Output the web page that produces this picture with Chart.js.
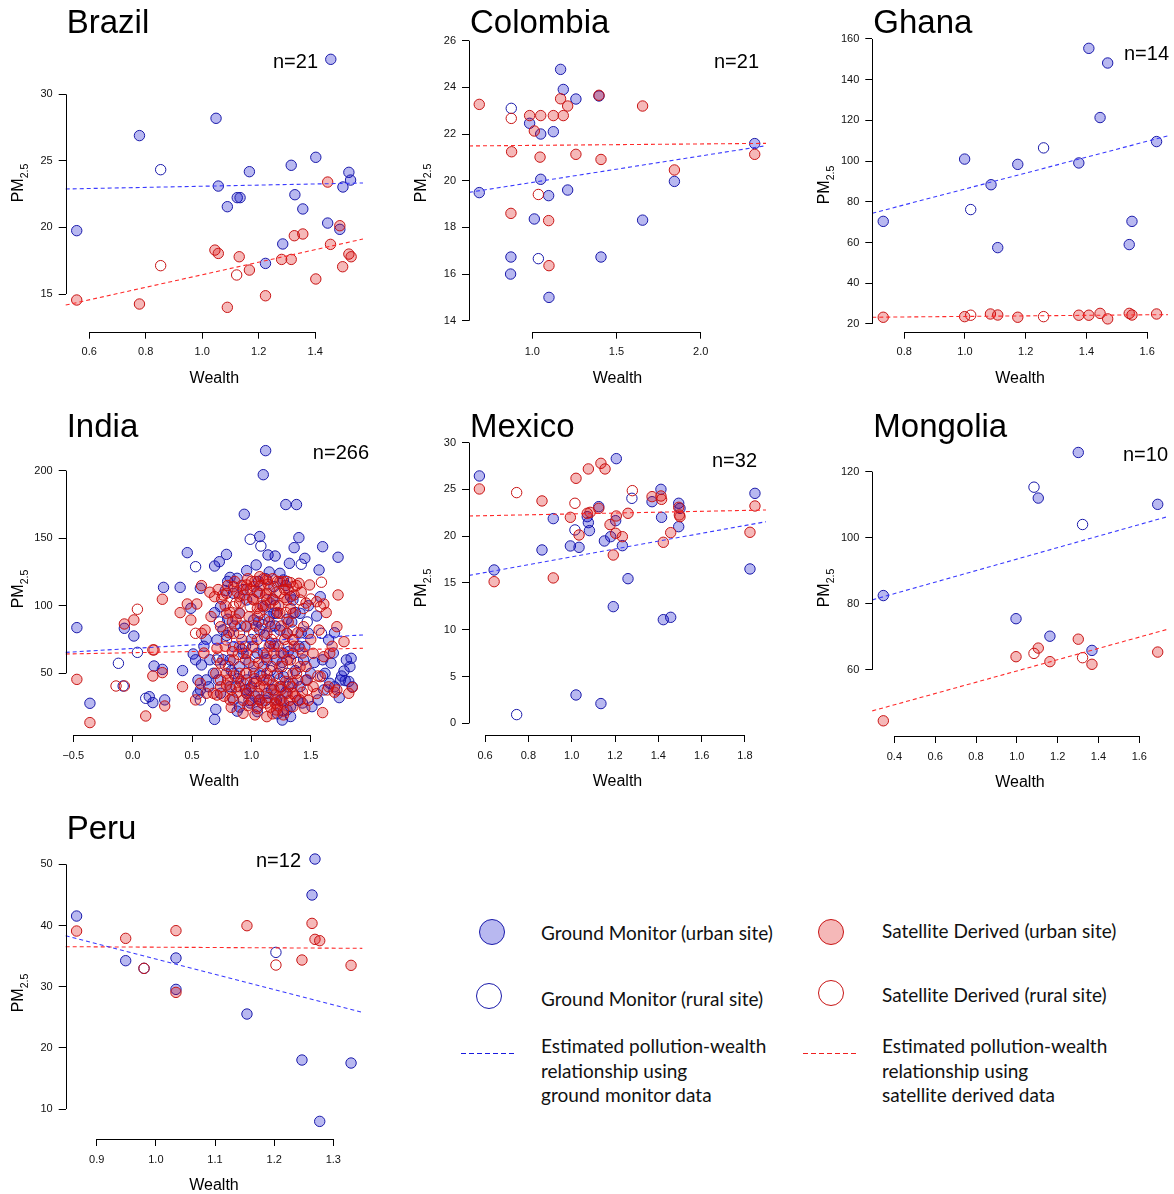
<!DOCTYPE html>
<html>
<head>
<meta charset="utf-8">
<title>PM2.5 and wealth</title>
<script src="https://cdn.jsdelivr.net/npm/chart.js@4.4.0/dist/chart.umd.min.js"></script>
<style>
body { margin: 0; background: #fff; }
#page { position: relative; width: 1174px; height: 1194px; overflow: hidden; background: #fff; }
#page canvas { position: absolute; }
.key { position: absolute; font-family: Lato, "Open Sans", sans-serif; font-size: 19px; color: #111; line-height: 24.5px; white-space: nowrap; }
.dot { position: absolute; width: 26px; height: 26px; border-radius: 50%; box-sizing: border-box; border: 1.3px solid; }
.dash { position: absolute; height: 1px; width: 56px; }
</style>
</head>
<body>
<div id="page">
  <div class="dot" style="left:479px;top:919px;border-color:rgb(25,25,170);background:rgba(0,0,200,0.28)"></div>
  <div class="key" style="left:541px;top:921px">Ground Monitor (urban site)</div>
  <div class="dot" style="left:476px;top:983px;border-color:rgb(25,25,170)"></div>
  <div class="key" style="left:541px;top:987px">Ground Monitor (rural site)</div>
  <div class="dash" style="left:461px;top:1053px;background:repeating-linear-gradient(90deg,#1a1ae0 0 5px,transparent 5px 8px)"></div>
  <div class="key" style="left:541px;top:1034px">Estimated pollution-wealth<br>relationship using<br>ground monitor data</div>

  <div class="dot" style="left:818px;top:919px;border-color:rgb(200,20,20);background:rgba(220,0,0,0.28)"></div>
  <div class="key" style="left:882px;top:919px">Satellite Derived (urban site)</div>
  <div class="dot" style="left:818px;top:980px;border-color:rgb(200,20,20)"></div>
  <div class="key" style="left:882px;top:983px">Satellite Derived (rural site)</div>
  <div class="dash" style="left:803px;top:1053px;background:repeating-linear-gradient(90deg,#f02020 0 5px,transparent 5px 8px)"></div>
  <div class="key" style="left:882px;top:1034px">Estimated pollution-wealth<br>relationship using<br>satellite derived data</div>
</div>
<script>
// ---- data ----
var countryNames = ['Brazil', 'Colombia', 'Ghana', 'India', 'Mexico', 'Mongolia', 'Peru'];
var siteCounts = [21, 21, 14, 266, 32, 10, 12];

// Brazil
var brazilXTicks = [0.6, 0.8, 1.0, 1.2, 1.4];
var brazilYTicks = [15, 20, 25, 30];
var brazilXRange = [0.517, 1.569];
var brazilYRange = [12.17, 33.33];
var brazilGroundUrban = [[1.455,32.63],[0.778,26.9],[1.049,28.2],[0.556,19.76],[1.057,23.11],[1.089,21.56],[1.124,22.24],[1.134,22.24],[1.167,24.19],[1.285,18.76],[1.224,17.3],[1.315,24.67],[1.328,22.46],[1.356,21.39],[1.402,25.27],[1.444,20.33],[1.519,24.14],[1.525,23.56],[1.498,23.04],[1.487,19.86]];
var brazilGroundRural = [[0.853,24.34]];
var brazilSatUrban = [[0.556,14.55],[0.778,14.25],[1.045,18.3],[1.057,18.05],[1.089,14.0],[1.131,17.8],[1.167,16.8],[1.224,14.87],[1.281,17.6],[1.315,17.6],[1.326,19.38],[1.356,19.51],[1.402,16.13],[1.444,23.41],[1.454,18.73],[1.487,20.13],[1.519,18.0],[1.527,17.8],[1.497,17.05]];
var brazilSatRural = [[0.853,17.13],[1.122,16.43]];
var brazilGroundFit = [[0.517,22.89],[1.569,23.34]];
var brazilSatFit = [[0.517,14.17],[1.569,19.13]];

// Colombia
var colombiaXTicks = [1.0, 1.5, 2.0];
var colombiaYTicks = [14, 16, 18, 20, 22, 24, 26];
var colombiaXRange = [0.624, 2.388];
var colombiaYRange = [13.53, 26.5];
var colombiaGroundUrban = [[0.685,19.49],[0.873,16.73],[0.871,16.0],[0.984,22.46],[1.012,18.36],[1.05,22.0],[1.05,20.06],[1.097,19.36],[1.099,15.0],[1.125,22.1],[1.168,24.77],[1.184,23.91],[1.21,19.6],[1.259,23.5],[1.396,23.63],[1.408,16.73],[1.655,18.31],[1.844,19.97],[2.321,21.59]];
var colombiaGroundRural = [[0.875,23.1],[1.036,16.66]];
var colombiaSatUrban = [[0.685,23.27],[0.877,21.24],[0.873,18.6],[0.984,22.79],[1.012,22.13],[1.05,22.79],[1.046,21.01],[1.097,18.29],[1.099,16.36],[1.125,22.79],[1.168,23.51],[1.184,22.79],[1.21,23.2],[1.259,21.13],[1.396,23.66],[1.408,20.91],[1.655,23.2],[1.844,20.46],[2.321,21.13]];
var colombiaSatRural = [[0.875,22.67],[1.036,19.41]];
var colombiaGroundFit = [[0.624,19.5],[2.388,21.5]];
var colombiaSatFit = [[0.624,21.49],[2.388,21.6]];

// Ghana
var ghanaXTicks = [0.8, 1.0, 1.2, 1.4, 1.6];
var ghanaYTicks = [20, 40, 60, 80, 100, 120, 140, 160];
var ghanaXRange = [0.695, 1.668];
var ghanaYRange = [16.2, 165];
var ghanaGroundUrban = [[0.731,70.4],[0.999,101.0],[1.086,88.4],[1.108,57.5],[1.174,98.4],[1.375,99.1],[1.408,155.4],[1.445,121.4],[1.47,148.2],[1.541,59.0],[1.55,70.4],[1.631,109.6]];
var ghanaGroundRural = [[1.019,76.2],[1.259,106.5]];
var ghanaSatUrban = [[0.731,23.3],[0.999,23.6],[1.084,24.9],[1.108,24.4],[1.174,23.3],[1.375,24.3],[1.408,24.3],[1.445,25.2],[1.47,22.5],[1.541,25.2],[1.55,24.4],[1.631,24.9]];
var ghanaSatRural = [[1.019,24.3],[1.259,23.6]];
var ghanaGroundFit = [[0.695,74.4],[1.668,112.4]];
var ghanaSatFit = [[0.695,23.3],[1.668,24.6]];

// India (dense cloud, read as closely as the overlap allows)
var indiaXTicks = [-0.5, 0.0, 0.5, 1.0, 1.5];
var indiaYTicks = [50, 100, 150, 200];
var indiaXRange = [-0.564, 1.94];
var indiaYRange = [4.33, 224.9];
var indiaGroundUrban = [[-0.47,83.8],[-0.36,27.8],[0.01,77.6],[-0.07,83.3],[0.14,32.7],[0.17,28.3],[0.18,55.4],[0.25,52.9],[0.26,113.6],[0.27,30.3],[0.40,113.6],[0.42,52.0],[0.46,139.3],[0.49,98.1],[0.51,64.3],[0.55,34.7],[0.57,112.9],[0.58,56.2],[0.62,75.2],[0.69,129.4],[0.69,94.9],[0.69,15.9],[0.70,23.3],[0.73,132.6],[0.79,138.0],[0.78,111.2],[0.82,121.0],[0.88,120.3],[0.94,167.7],[0.96,126.0],[1.04,130.2],[1.07,151.2],[1.10,197.0],[1.12,214.8],[1.14,137.6],[1.20,136.8],[1.24,124.0],[1.29,174.9],[1.38,174.9],[1.32,131.4],[1.36,143.0],[1.40,150.4],[1.45,135.1],[1.57,126.5],[1.60,143.7],[1.73,135.9],[1.58,106.7],[1.65,74.7],[1.67,57.6],[1.80,59.9],[1.84,61.1],[1.78,51.7],[1.79,44.6],[1.74,32.0],[1.83,54.9],[1.56,30.3],[1.51,25.3],[1.33,25.3],[1.26,15.4],[1.05,21.6],[1.48,79.6],[1.45,69.8],[1.55,92.4],[1.33,106.7],[1.30,79.6],[1.19,94.4],[1.16,84.5],[1.07,82.1],[1.02,89.5],[0.90,94.4],[0.85,109.2],[0.74,99.3],[0.71,74.7],[0.82,59.9],[0.90,54.9],[0.96,45.1],[1.02,50.0],[1.10,54.9],[1.21,59.9],[1.27,47.5],[1.35,42.6],[1.41,40.1],[0.82,40.1],[0.74,35.2],[0.85,30.3],[0.96,35.2],[1.13,35.2],[1.21,30.3],[1.30,22.9],[1.07,30.3],[0.68,50.0],[0.62,45.1],[0.57,37.7],[0.96,104.3],[1.10,99.3],[1.19,114.1],[1.27,119.1],[1.35,104.3],[1.41,94.4],[1.44,59.9],[1.35,64.8],[1.27,64.8],[1.16,72.2],[1.05,64.8],[0.93,64.8],[0.85,69.7],[0.76,82.1],[1.66,42.6],[1.61,37.7],[1.00,40.0],[1.15,45.0],[1.25,40.0],[0.95,85.0],[1.20,85.0],[1.30,90.0],[1.05,110.0],[1.15,125.0],[0.80,90.0],[1.25,30.0],[0.90,25.0],[1.10,65.0],[1.40,70.0],[1.50,50.0],[1.60,60.0],[1.70,80.0],[1.75,45.0],[1.85,40.0],[0.65,60.0],[0.55,45.0],[0.72,45],[0.76,60],[0.79,78],[0.83,52],[0.86,85],[0.89,46],[0.92,68],[0.95,38],[0.98,58],[1.00,75],[1.03,33],[1.06,88],[1.08,48],[1.11,78],[1.13,60],[1.15,92],[1.17,38],[1.19,70],[1.22,50],[1.24,82],[1.26,58],[1.29,36],[1.31,66],[1.34,88],[1.37,52],[1.39,30],[1.42,80],[1.46,45],[1.53,58],[1.62,50],[1.69,65],[1.76,48],[0.80,118],[0.93,112],[1.06,118],[1.18,105],[1.29,115],[1.37,95],[1.12,30],[1.22,20],[0.99,28],[0.88,22],[1.33,18],[1.43,28],[1.70,40],[1.82,44],[0.64,40],[0.60,70],[0.53,60],[1.48,100]];
var indiaGroundRural = [[-0.12,57.4],[-0.08,40.6],[0.04,65.5],[0.11,31.5],[0.53,128.9],[0.99,149.2],[1.08,144.2],[1.42,130.7],[1.59,79.6],[1.21,94.4],[1.02,69.7],[0.85,50.0],[1.35,74.7],[0.71,59.9],[1.13,104.3],[0.90,79.6],[1.30,50.0],[1.05,25.3],[0.57,30.3],[0.78,56],[0.95,70],[1.09,86],[1.16,52],[1.23,70],[1.31,40],[1.39,58],[0.87,40],[1.04,44],[1.20,100],[1.47,88],[1.60,48],[0.73,88],[1.12,120],[0.98,30]];
var indiaSatUrban = [[-0.47,45.5],[-0.36,13.5],[-0.07,86.5],[0.01,89.5],[0.11,18.4],[0.17,48.0],[0.18,67.3],[0.25,104.8],[0.25,50.5],[0.27,25.8],[0.40,94.9],[0.42,40.1],[0.46,101.3],[0.49,89.5],[0.54,101.3],[0.58,114.9],[0.58,79.6],[0.61,82.1],[0.69,106.7],[0.71,68.5],[0.74,57.4],[0.79,41.3],[0.83,24.8],[0.85,114.1],[0.93,20.4],[0.96,115.4],[1.03,19.2],[1.07,121.5],[1.13,119.1],[1.19,104.3],[1.24,117.8],[1.33,117.1],[1.40,116.6],[1.49,115.4],[1.55,103.0],[1.61,101.3],[1.73,108.0],[1.72,84.5],[1.66,64.8],[1.61,62.3],[1.78,73.4],[1.72,37.7],[1.82,35.2],[1.85,39.6],[1.60,20.9],[1.45,24.1],[1.35,25.3],[1.27,19.2],[1.21,22.9],[1.13,17.9],[1.07,30.3],[0.96,35.2],[0.90,40.1],[0.82,30.3],[0.71,33.9],[0.62,35.2],[0.57,42.6],[0.53,30.3],[0.68,35.2],[0.74,84.5],[0.79,94.4],[0.85,79.6],[0.90,94.4],[0.96,84.5],[1.02,104.3],[1.07,94.4],[1.13,79.6],[1.19,64.8],[1.24,54.9],[1.30,59.9],[1.35,50.0],[1.41,54.9],[1.47,45.1],[1.52,40.1],[1.58,47.5],[1.13,50.0],[1.02,54.9],[0.96,64.8],[0.90,69.7],[0.85,59.9],[0.79,50.0],[1.07,40.1],[1.19,37.7],[1.30,35.2],[1.35,35.2],[1.41,30.3],[1.24,30.3],[1.02,42.6],[1.30,104.3],[1.35,94.4],[1.24,94.4],[1.02,114.1],[0.90,106.7],[0.79,109.2],[1.30,79.6],[1.35,74.7],[1.13,109.2],[1.07,109.2],[1.52,64.8],[1.44,84.5],[1.10,45.0],[1.20,28.0],[1.15,70.0],[1.25,85.0],[0.95,50.0],[1.05,75.0],[1.28,112.0],[1.12,100.0],[0.72,112],[0.75,105],[0.78,100],[0.80,115],[0.82,95],[0.84,88],[0.86,118],[0.88,110],[0.90,102],[0.92,115],[0.94,108],[0.97,120],[0.99,112],[1.01,105],[1.03,118],[1.05,98],[1.08,115],[1.10,120],[1.12,108],[1.14,116],[1.16,102],[1.18,120],[1.21,110],[1.23,100],[1.26,118],[1.28,106],[1.31,112],[1.33,98],[1.36,108],[1.38,115],[1.42,110],[1.46,102],[0.74,40],[0.77,33],[0.80,45],[0.83,38],[0.86,48],[0.88,36],[0.91,44],[0.93,30],[0.98,38],[1.00,30],[1.03,46],[1.06,35],[1.09,28],[1.11,40],[1.14,32],[1.16,25],[1.18,42],[1.20,34],[1.22,26],[1.25,38],[1.27,28],[1.29,44],[1.32,30],[1.34,40],[1.37,33],[1.39,45],[1.43,36],[1.48,30],[1.55,35],[1.65,40],[1.70,36],[0.78,70],[0.81,80],[0.84,66],[0.87,90],[0.92,75],[0.95,60],[0.98,92],[1.01,70],[1.04,85],[1.06,58],[1.09,100],[1.12,62],[1.15,88],[1.17,55],[1.20,72],[1.22,95],[1.25,65],[1.28,75],[1.31,88],[1.33,60],[1.36,70],[1.39,80],[1.43,65],[1.46,55],[1.50,75],[1.57,82],[1.63,95],[1.68,70],[0.66,92],[0.70,50],[0.60,65],[0.65,110],[1.18,20],[1.27,22],[1.05,24],[0.97,26]];
var indiaSatRural = [[-0.14,40.6],[-0.07,40.6],[0.04,97.4],[0.17,67.3],[0.53,79.6],[1.59,117.4],[1.58,99.3],[0.85,99.3],[0.99,99.3],[1.02,79.6],[1.19,79.6],[1.13,64.8],[1.30,69.7],[0.90,50.0],[0.96,50.0],[1.13,45.1],[1.24,40.1],[1.35,114.1],[1.41,104.3],[1.24,109.2],[0.79,74.7],[0.74,45.1],[1.47,37.7],[1.64,37.7],[0.76,108],[0.81,55],[0.87,102],[0.91,85],[0.94,42],[1.00,118],[1.03,62],[1.07,50],[1.11,90],[1.15,112],[1.19,48],[1.22,118],[1.26,55],[1.29,95],[1.32,42],[1.35,82],[1.38,50],[1.41,68],[1.44,98],[1.50,105],[1.56,48],[0.72,62],[0.84,32],[1.13,28],[1.24,46],[0.89,64],[1.05,92],[1.17,75],[1.30,118],[0.96,112]];
var indiaGroundFit = [[-0.564,65.5],[1.94,78.4]];
var indiaSatFit = [[-0.564,64.3],[1.94,68.5]];

// Mexico
var mexicoXTicks = [0.6, 0.8, 1.0, 1.2, 1.4, 1.6, 1.8];
var mexicoYTicks = [0, 5, 10, 15, 20, 25, 30];
var mexicoXRange = [0.526, 1.897];
var mexicoYRange = [-1.25, 31.0];
var mexicoGroundUrban = [[0.574,26.44],[0.642,16.39],[0.863,18.53],[0.915,21.88],[0.994,18.96],[1.02,3.03],[1.034,18.81],[1.072,22.09],[1.077,21.45],[1.082,20.6],[1.125,23.16],[1.135,2.11],[1.151,19.49],[1.18,19.95],[1.192,12.47],[1.203,21.66],[1.206,28.29],[1.234,18.99],[1.26,15.46],[1.371,23.69],[1.412,25.01],[1.415,22.02],[1.423,11.08],[1.457,11.33],[1.494,23.52],[1.5,22.98],[1.494,21.02],[1.823,16.5],[1.846,24.58]];
var mexicoGroundRural = [[0.746,0.93],[1.015,20.67],[1.278,24.05]];
var mexicoSatUrban = [[0.574,25.05],[0.642,15.14],[0.863,23.77],[0.915,15.54],[0.994,22.02],[1.02,26.19],[1.034,20.13],[1.077,27.19],[1.072,22.45],[1.085,22.55],[1.125,22.98],[1.135,27.79],[1.154,27.19],[1.177,21.24],[1.192,17.99],[1.203,20.31],[1.206,22.16],[1.234,19.95],[1.26,22.45],[1.371,24.23],[1.412,24.3],[1.415,23.94],[1.423,19.35],[1.457,20.38],[1.494,23.09],[1.5,22.09],[1.497,22.27],[1.823,20.42],[1.846,23.23]];
var mexicoSatRural = [[0.746,24.66],[1.015,23.52],[1.28,24.87]];
var mexicoGroundFit = [[0.526,15.81],[1.897,21.55]];
var mexicoSatFit = [[0.526,22.16],[1.897,22.8]];

// Mongolia
var mongoliaXTicks = [0.4, 0.6, 0.8, 1.0, 1.2, 1.4, 1.6];
var mongoliaYTicks = [60, 80, 100, 120];
var mongoliaXRange = [0.292, 1.739];
var mongoliaYRange = [40.0, 128];
var mongoliaGroundUrban = [[0.346,82.5],[0.996,75.5],[1.105,112.0],[1.162,70.2],[1.301,125.8],[1.368,65.9],[1.69,110.1]];
var mongoliaGroundRural = [[1.084,115.3],[1.322,104.0]];
var mongoliaSatUrban = [[0.346,44.6],[0.996,64.0],[1.105,66.6],[1.162,62.5],[1.301,69.3],[1.368,61.7],[1.69,65.4]];
var mongoliaSatRural = [[1.084,65.0],[1.322,63.7]];
var mongoliaGroundFit = [[0.292,81.2],[1.739,106.4]];
var mongoliaSatFit = [[0.292,47.6],[1.739,72.3]];

// Peru
var peruXTicks = [0.9, 1.0, 1.1, 1.2, 1.3];
var peruYTicks = [10, 20, 30, 40, 50];
var peruXRange = [0.8476, 1.349];
var peruYRange = [5.1, 53.0];
var peruGroundUrban = [[0.866,41.55],[0.949,34.25],[1.034,34.69],[1.034,29.56],[1.154,25.53],[1.247,18.01],[1.264,44.99],[1.269,50.87],[1.277,7.98],[1.33,17.52]];
var peruGroundRural = [[1.203,35.61],[0.98,33.0]];
var peruSatUrban = [[0.866,39.1],[0.949,37.9],[1.034,39.16],[1.034,29.07],[1.154,39.97],[1.247,34.36],[1.264,40.35],[1.269,37.74],[1.277,37.52],[1.33,33.49]];
var peruSatRural = [[0.98,33.0],[1.203,33.54]];
var peruGroundFit = [[0.8476,38.34],[1.349,25.8]];
var peruSatFit = [[0.8476,36.54],[1.349,36.27]];

// ---- page layout (pixels), kept apart from the data ----
// cell = canvas box, area = plot region, then title / n label / y label positions
var panelLayout = {
	Brazil:   { cell: [0, 0, 395, 400],   area: [65.7, 50, 363, 331.7],     titleY: 33,  nX: 318,  nY: 68,  pmY: 183 },
	Colombia: { cell: [395, 0, 400, 400], area: [469, 29, 766, 331.7],      titleY: 33,  nX: 759,  nY: 68,  pmY: 183 },
	Ghana:    { cell: [795, 0, 379, 400], area: [872.3, 28.8, 1169, 331.7], titleY: 33,  nX: 1169, nY: 60,  pmY: 185 },
	India:    { cell: [0, 400, 395, 400], area: [65.7, 437, 363, 735],      titleY: 437, nX: 369,  nY: 459, pmY: 589 },
	Mexico:   { cell: [395, 400, 400, 400], area: [469, 433.3, 766, 735],   titleY: 437, nX: 757,  nY: 467, pmY: 588 },
	Mongolia: { cell: [795, 400, 379, 400], area: [872.3, 445.2, 1167.7, 736], titleY: 437, nX: 1168, nY: 461, pmY: 588 },
	Peru:     { cell: [0, 800, 395, 394], area: [65.7, 846, 362.3, 1139],   titleY: 839, nX: 301,  nY: 867, pmY: 993 }
};

var FONT = '"Liberation Sans", Arial, Helvetica, sans-serif';
var blue = { line: 'rgb(25,25,170)', fill: 'rgba(0,0,200,0.28)', fit: '#3a3aff' };
var red = { line: 'rgb(200,20,20)', fill: 'rgba(220,0,0,0.28)', fit: '#ff2a2a' };

Chart.defaults.font.family = FONT;
Chart.defaults.color = '#000';

(() => {
	window.addEventListener('load', iniciar);
})();

function iniciar() {
	var allData = window;
	countryNames.forEach(function (name, i) {
		var key = name.toLowerCase();
		dibujarPanel(name, siteCounts[i], {
			xTicks: allData[key + 'XTicks'],
			yTicks: allData[key + 'YTicks'],
			xRange: allData[key + 'XRange'],
			yRange: allData[key + 'YRange'],
			groundUrban: allData[key + 'GroundUrban'],
			groundRural: allData[key + 'GroundRural'],
			satUrban: allData[key + 'SatUrban'],
			satRural: allData[key + 'SatRural'],
			groundFit: allData[key + 'GroundFit'],
			satFit: allData[key + 'SatFit']
		});
	});
}

function toPoints(list) {
	return list.map(function (p) { return { x: p[0], y: p[1] }; });
}

function pointSet(list, color, filled) {
	return {
		data: toPoints(list),
		pointRadius: 5.2,
		pointBorderWidth: 1,
		pointBorderColor: color.line,
		pointBackgroundColor: filled ? color.fill : 'rgba(0,0,0,0)',
		clip: false
	};
}

function fitSet(list, color) {
	return {
		data: toPoints(list),
		showLine: true,
		borderColor: color.fit,
		borderWidth: 1.1,
		borderDash: [4, 3],
		pointRadius: 0,
		fill: false,
		clip: false
	};
}

function fmtX(v) {
	var s = Number(v).toFixed(1);
	return v < 0 ? '\u2212' + s.slice(1) : s;
}

// R style axes: lines only between the outer ticks, titles and labels
function rAxesPlugin(name, n, lay, d) {
	return {
		id: 'rAxes',
		afterDraw: function (chart) {
			var ctx = chart.ctx, area = chart.chartArea;
			var xs = chart.scales.x, ys = chart.scales.y;
			var cx = lay.cell[0], cy = lay.cell[1];
			ctx.save();
			ctx.strokeStyle = '#000';
			ctx.lineWidth = 1;
			ctx.beginPath();
			var ax = Math.round(area.left) + 0.5;
			var ay = Math.round(area.bottom) + 0.5;
			ctx.moveTo(ax, ys.getPixelForValue(d.yTicks[0]));
			ctx.lineTo(ax, ys.getPixelForValue(d.yTicks[d.yTicks.length - 1]));
			ctx.moveTo(xs.getPixelForValue(d.xTicks[0]), ay);
			ctx.lineTo(xs.getPixelForValue(d.xTicks[d.xTicks.length - 1]), ay);
			ctx.stroke();

			ctx.fillStyle = '#000';
			ctx.textBaseline = 'alphabetic';
			ctx.font = '33px ' + FONT;
			ctx.textAlign = 'left';
			ctx.fillText(name, area.left + 1, lay.titleY - cy);

			ctx.font = '20px ' + FONT;
			ctx.textAlign = 'right';
			ctx.fillText('n=' + n, lay.nX - cx, lay.nY - cy);

			ctx.font = '16px ' + FONT;
			ctx.textAlign = 'center';
			ctx.fillText('Wealth', (area.left + area.right) / 2, area.bottom + 51);

			// PM2.5, turned up the left side
			ctx.translate(area.left - 43, lay.pmY - cy);
			ctx.rotate(-Math.PI / 2);
			ctx.textAlign = 'left';
			ctx.font = '16px ' + FONT;
			var w1 = ctx.measureText('PM').width;
			ctx.font = '10.5px ' + FONT;
			var w2 = ctx.measureText('2.5').width;
			var start = -(w1 + w2) / 2;
			ctx.font = '16px ' + FONT;
			ctx.fillText('PM', start, 0);
			ctx.font = '10.5px ' + FONT;
			ctx.fillText('2.5', start + w1, 5);
			ctx.restore();
		}
	};
}

function dibujarPanel(name, n, d) {
	var lay = panelLayout[name];
	var c = lay.cell, a = lay.area;
	var yWidth = 50, xHeight = 40;
	var canvas = document.createElement('canvas');
	canvas.width = c[2];
	canvas.height = c[3];
	canvas.style.left = c[0] + 'px';
	canvas.style.top = c[1] + 'px';
	canvas.style.width = c[2] + 'px';
	canvas.style.height = c[3] + 'px';
	document.getElementById('page').appendChild(canvas);

	var tickGrid = { display: true, drawOnChartArea: false, drawTicks: true, tickLength: 7, color: '#000', lineWidth: 1 };

	new Chart(canvas.getContext('2d'), {
		type: 'scatter',
		data: {
			datasets: [
				fitSet(d.groundFit, blue),
				fitSet(d.satFit, red),
				pointSet(d.satUrban, red, true),
				pointSet(d.satRural, red, false),
				pointSet(d.groundUrban, blue, true),
				pointSet(d.groundRural, blue, false)
			]
		},
		options: {
			responsive: false,
			animation: false,
			events: [],
			layout: {
				padding: {
					left: a[0] - c[0] - yWidth,
					top: a[1] - c[1],
					right: c[0] + c[2] - a[2],
					bottom: c[1] + c[3] - a[3] - xHeight
				}
			},
			plugins: { legend: { display: false }, tooltip: { enabled: false } },
			scales: {
				x: {
					type: 'linear',
					min: d.xRange[0],
					max: d.xRange[1],
					afterBuildTicks: function (s) { s.ticks = d.xTicks.map(function (v) { return { value: v }; }); },
					afterFit: function (s) { s.height = xHeight; },
					grid: tickGrid,
					border: { display: false },
					ticks: { font: { size: 11 }, color: '#111', padding: 7, maxRotation: 0, autoSkip: false, callback: fmtX }
				},
				y: {
					type: 'linear',
					min: d.yRange[0],
					max: d.yRange[1],
					afterBuildTicks: function (s) { s.ticks = d.yTicks.map(function (v) { return { value: v }; }); },
					afterFit: function (s) { s.width = yWidth; },
					grid: tickGrid,
					border: { display: false },
					ticks: { font: { size: 11 }, color: '#111', padding: 6, autoSkip: false, callback: function (v) { return String(v); } }
				}
			}
		},
		plugins: [rAxesPlugin(name, n, lay, d)]
	});
}
</script>
</body>
</html>
